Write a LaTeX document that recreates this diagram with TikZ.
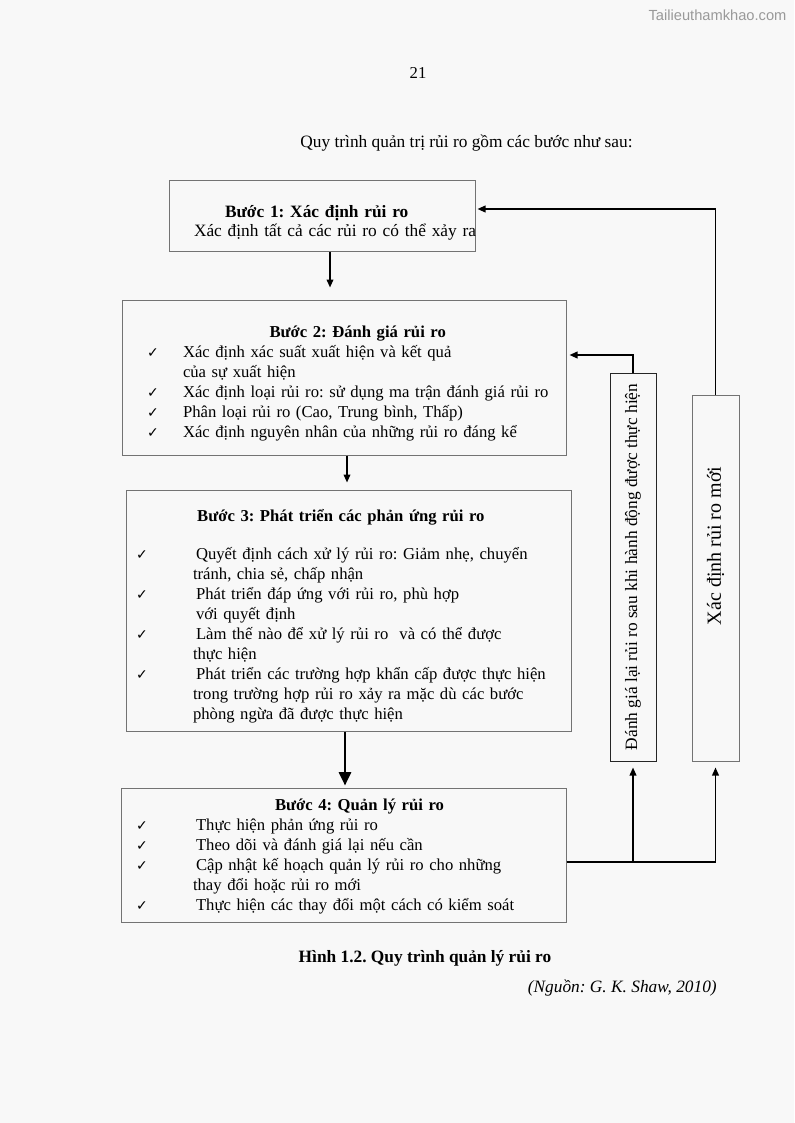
\documentclass[tikz,border=0pt]{standalone}
\usepackage{fontspec}
\setmainfont{Liberation Serif}
\newfontfamily\symfont{DejaVu Sans}
\newfontfamily\markfont{Liberation Sans}
\usepackage{graphicx}
\usetikzlibrary{arrows.meta}
\frenchspacing
\definecolor{paper}{RGB}{248,248,248}
\newcommand{\ck}{{\symfont\fontsize{10.5}{10.5}\selectfont ✓}}
\tikzset{
  page/.style={inner sep=0pt, font=\fontsize{13}{15}\selectfont},
  stepbox/.style={page, draw=black!55, line width=0.75pt, align=left, font=\fontsize{12.5}{15}\selectfont},
  sidebox/.style={page, draw=black!85, line width=0.75pt, minimum width=34.5pt},
  arr/.style={-{Triangle[length=6pt,width=5pt]}, line width=1.2pt},
  bigarr/.style={-{Triangle[length=10pt,width=9pt]}, line width=2pt}
}

\begin{document}
\begin{tikzpicture}[x=0.75pt, y=-0.75pt]
  \fill[paper] (0,0) rectangle (794,1123);
  \useasboundingbox (0,0) rectangle (794,1123);

  \node[font=\markfont\fontsize{11}{13}\selectfont, text=black!40] (mark) at (717.5,15) {Tailieuthamkhao.com};
  \node[page, font=\fontsize{12.5}{15}\selectfont] (pnum) at (418,73) {21};
  \node[page] (intro) at (466.5,143) {Quy trình quản trị rủi ro gồm các bước như sau:};

  % the four steps
  \node[stepbox, font=\fontsize{13}{14.25}\selectfont, text width=229.5pt, minimum height=52.5pt] (step1) at (322,216) {\hspace*{18.75pt}\raisebox{-5.25pt}[\height][\depth]{\begin{tabular}{@{}l@{}}
    \hspace*{23.25pt}\textbf{Bước 1: Xác định rủi ro}\\
    Xác định tất cả các rủi ro có thể xảy ra
  \end{tabular}}};
  \node[stepbox, text width=333pt, minimum height=116.25pt] (step2) at (344,377.5) {\hspace*{18.75pt}\raisebox{-4.5pt}[\height][\depth]{\begin{tabular}{@{}p{27pt}@{}l@{}}
    \multicolumn{2}{@{}c@{}}{\hspace*{15pt}\textbf{Bước 2: Đánh giá rủi ro}}\\
    \ck & Xác định xác suất xuất hiện và kết quả\\
        & của sự xuất hiện\\
    \ck & Xác định loại rủi ro: sử dụng ma trận đánh giá rủi ro\\
    \ck & Phân loại rủi ro (Cao, Trung bình, Thấp)\\
    \ck & Xác định nguyên nhân của những rủi ro đáng kể
  \end{tabular}}};
  \node[stepbox, text width=333.75pt, minimum height=180.75pt] (step3) at (348.5,610.5) {\hspace*{7.5pt}\raisebox{-4.5pt}[\height][\depth]{\begin{tabular}{@{}p{45pt}@{}l@{}}
    \multicolumn{2}{@{}c@{}}{\textbf{Bước 3: Phát triển các phản ứng rủi ro}}\\[13.5pt]
    \ck & Quyết định cách xử lý rủi ro: Giảm nhẹ, chuyển\\
        & \hspace*{-2.25pt}tránh, chia sẻ, chấp nhận\\
    \ck & Phát triển đáp ứng với rủi ro, phù hợp\\
        & với quyết định\\
    \ck & Làm thế nào để xử lý rủi ro\ \ và có thể được\\
        & \hspace*{-2.25pt}thực hiện\\
    \ck & Phát triển các trường hợp khẩn cấp được thực hiện\\
        & \hspace*{-2.25pt}trong trường hợp rủi ro xảy ra mặc dù các bước\\
        & \hspace*{-2.25pt}phòng ngừa đã được thực hiện
  \end{tabular}}};
  \node[stepbox, text width=333.75pt, minimum height=100.5pt] (step4) at (343.5,855) {\hspace*{11.25pt}\raisebox{-0.75pt}[\height][\depth]{\begin{tabular}{@{}p{45pt}@{}l@{}}
    \multicolumn{2}{@{}l@{}}{\hspace*{104.25pt}\textbf{Bước 4: Quản lý rủi ro}}\\
    \ck & Thực hiện phản ứng rủi ro\\
    \ck & Theo dõi và đánh giá lại nếu cần\\
    \ck & Cập nhật kế hoạch quản lý rủi ro cho những\\
        & \hspace*{-2.25pt}thay đổi hoặc rủi ro mới\\
    \ck & Thực hiện các thay đổi một cách có kiểm soát
  \end{tabular}}};

  % feedback boxes
  \node[sidebox, minimum height=291pt, font=\fontsize{13}{15}\selectfont] (revA) at (633,567) {\rotatebox{90}{Đánh giá lại rủi ro sau khi hành động được thực hiện}};
  \node[sidebox, draw=black!55, minimum width=35.25pt, minimum height=274.5pt, font=\fontsize{15}{17}\selectfont] (newB) at (715.5,578) {\rotatebox{90}{\hspace*{48pt}Xác định rủi ro mới}};

  % connectors
  \draw[arr, shorten >=9pt] (330,0 |- step1.south) -- (330,0 |- step2.north);
  \draw[arr, shorten >=5.25pt] (347,0 |- step2.south) -- (347,0 |- step3.north);
  \draw[bigarr, shorten >=1.5pt] (345,0 |- step3.south) -- (345,0 |- step4.north);
  \draw[arr, shorten >=4.5pt] (step4.east |- 0,862) -| (revA.south);
  \draw[arr, shorten >=4.5pt] (step4.east |- 0,862) -| (newB.south);
  \draw[arr, shorten >=2.25pt] (revA.north) |- (step2.east |- 0,355);
  \draw[arr, shorten >=1.5pt] (newB.north) |- (step1.east |- 0,209);

  \node[page] (caption) at (425,958) {\textbf{Hình 1.2. Quy trình quản lý rủi ro}};
  \node[page, anchor=east] (source) at (717,988) {\textit{(Nguồn: G. K. Shaw, 2010)}};
\end{tikzpicture}
\end{document}
